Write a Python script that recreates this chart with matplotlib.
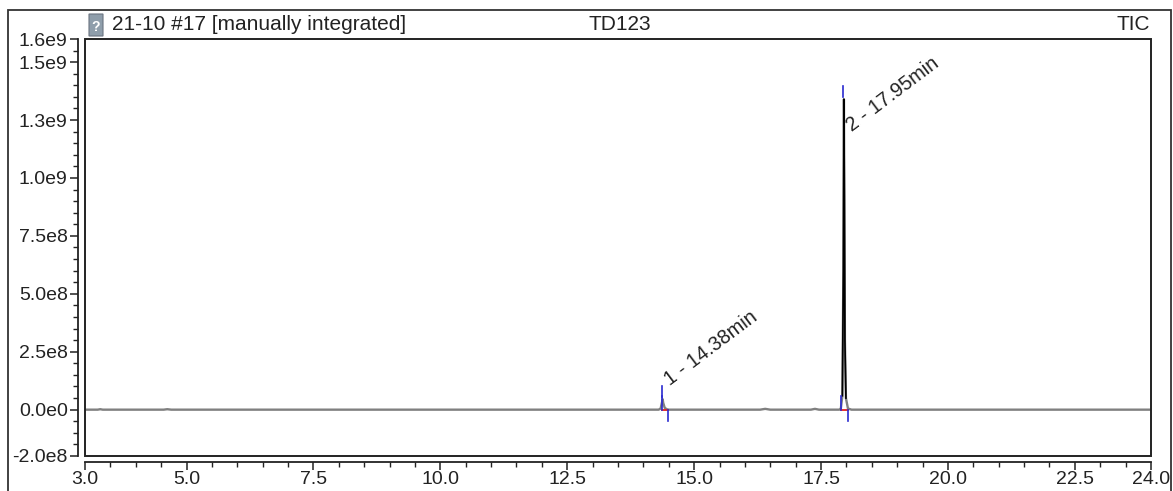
import matplotlib
matplotlib.use("Agg")
import matplotlib.pyplot as plt
import numpy as np
from matplotlib.patches import Rectangle, FancyBboxPatch
from matplotlib.ticker import MultipleLocator

plt.rcParams['font.family'] = ['Liberation Sans', 'DejaVu Sans']

# ---- data ----
rt = [3.00, 3.25, 3.30, 3.35, 4.55, 4.62, 4.70, 8.00, 12.00, 14.30, 14.34, 14.37,
      14.38, 14.39, 14.42, 14.46, 14.50, 16.30, 16.40, 16.50, 17.30, 17.38, 17.46,
      17.86, 17.89, 17.92, 17.94, 17.95, 17.96, 17.97, 17.99, 18.03, 18.10, 24.00]
intensity = [0.0, 0.0, 0.02e8, 0.0, 0.0, 0.02e8, 0.0, 0.0, 0.0, 0.0, 0.05e8, 0.35e8,
             0.45e8, 0.30e8, 0.08e8, 0.02e8, 0.0, 0.0, 0.035e8, 0.0, 0.0, 0.035e8, 0.0,
             0.0, 0.05e8, 0.6e8, 6.0e8, 13.4e8, 9.0e8, 3.0e8, 0.5e8, 0.05e8, 0.0, 0.0]

peak_labels = ["1 - 14.38min", "2 - 17.95min"]
peak_rt = [14.38, 17.95]
peak_start = [14.37, 17.89]
peak_end = [14.49, 18.03]
apex_mark_rt = [14.37, 17.94]
apex_mark_lo = [0.55e8, 13.5e8]
apex_mark_hi = [1.0e8, 13.95e8]
label_x = [14.58, 18.15]
label_y = [0.9e8, 11.85e8]

yticks = [-2.0e8, 0.0, 2.5e8, 5.0e8, 7.5e8, 1.0e9, 1.25e9, 1.5e9, 1.6e9]
yticklabels = ["-2.0e8", "0.0e0", "2.5e8", "5.0e8", "7.5e8", "1.0e9", "1.3e9", "1.5e9", "1.6e9"]
xticks = [3.0, 5.0, 7.5, 10.0, 12.5, 15.0, 17.5, 20.0, 22.5, 24.0]
xticklabels = ["3.0", "5.0", "7.5", "10.0", "12.5", "15.0", "17.5", "20.0", "22.5", "24.0"]

title_left = "21-10 #17 [manually integrated]"
title_mid = "TD123"
title_right = "TIC"

W, H = 1173, 491
fig = plt.figure(figsize=(W / 100, H / 100), dpi=100)
L, R, T, B = 85, 1151, 39, 456
ax = fig.add_axes([L / W, 1 - B / H, (R - L) / W, (B - T) / H])

rt_a = np.array(rt)
in_a = np.array(intensity)
ax.plot(rt_a, in_a, color='#808080', lw=1.7, zorder=2)
mask = (rt_a >= 17.92) & (rt_a <= 17.99)
ax.plot(rt_a[mask], in_a[mask], color='black', lw=1.2, zorder=3)

for i in range(len(peak_rt)):
    ax.plot([peak_start[i], peak_end[i]], [0, 0], color='#e02020', lw=1.3, zorder=4)
    ax.plot([peak_start[i], peak_start[i]], [0, 0.6e8], color='#2a2ad0', lw=1.2, zorder=5)
    ax.plot([peak_end[i], peak_end[i]], [0, -0.5e8], color='#2a2ad0', lw=1.2, zorder=5)
    ax.plot([apex_mark_rt[i], apex_mark_rt[i]], [apex_mark_lo[i], apex_mark_hi[i]],
            color='#2a2ad0', lw=1.2, zorder=5)
    ax.text(label_x[i], label_y[i], peak_labels[i], rotation=37, rotation_mode='anchor',
            ha='left', va='bottom', fontsize=14.3, color='#222222', zorder=6)

ax.set_xlim(3.0, 24.0)
ax.set_ylim(-2.0e8, 1.6e9)
ax.set_xticks(xticks)
ax.set_xticklabels(xticklabels)
ax.set_yticks(yticks)
ax.set_yticklabels(yticklabels)
ax.xaxis.set_minor_locator(MultipleLocator(0.5))
ax.yaxis.set_minor_locator(MultipleLocator(0.5e8))

for s in ['top', 'right']:
    ax.spines[s].set_visible(False)
ax.spines['left'].set_position(('outward', 5.0))
ax.spines['bottom'].set_position(('outward', 4.3))
for s in ['left', 'bottom']:
    ax.spines[s].set_linewidth(1.3)
    ax.spines[s].set_color('#222222')
ax.tick_params(axis='both', which='major', length=5.5, width=1.1, color='#222222',
               labelsize=14, labelcolor='#222222', direction='out')
ax.tick_params(axis='both', which='minor', length=3.8, width=1.0, color='#222222',
               direction='out')
ax.tick_params(axis='y', pad=2)
ax.tick_params(axis='x', pad=1)

ax.add_patch(Rectangle((0, 0), 1, 1, transform=ax.transAxes, fill=False,
                       lw=1.4, ec='#222222', clip_on=False, zorder=10))

# outer frame
fig.add_artist(Rectangle((8 / W, -0.2), (1171 - 8) / W, 1.2 - 10 / H,
                         transform=fig.transFigure, fill=False, lw=1.3, ec='#333333'))

# icon
fig.add_artist(FancyBboxPatch((89 / W, 1 - 36 / H), 14 / W, 22 / H,
                              boxstyle="round,pad=0.0", transform=fig.transFigure,
                              fc='#8f9eab', ec='#6b7480', lw=0.8))
fig.text(96 / W, 1 - 27 / H, "?", ha='center', va='center', fontsize=10,
         color='white', fontweight='bold')

fig.text(112 / W, 1 - 24 / H, title_left, ha='left', va='center', fontsize=15,
         color='#222222')
fig.text(620 / W, 1 - 24 / H, title_mid, ha='center', va='center', fontsize=15,
         color='#222222')
fig.text(1150 / W, 1 - 24 / H, title_right, ha='right', va='center', fontsize=15,
         color='#222222')

fig.savefig("out.png", dpi=100)
